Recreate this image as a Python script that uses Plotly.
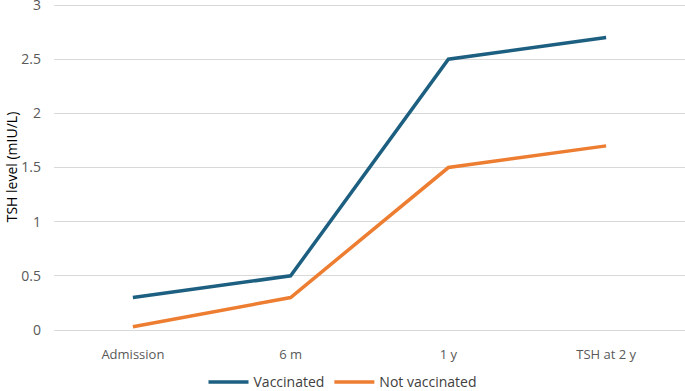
import plotly.graph_objects as go

categories = ["Admission", "6 m", "1 y", "TSH at 2 y"]
vaccinated = [0.3, 0.5, 2.5, 2.7]
not_vaccinated = [0.03, 0.3, 1.5, 1.7]
y_ticks = [0, 0.5, 1, 1.5, 2, 2.5, 3]
y_tick_labels = ["0", "0.5", "1", "1.5", "2", "2.5", "3"]

fig = go.Figure()
fig.add_trace(go.Scatter(x=categories, y=vaccinated, mode="lines", name="Vaccinated",
                         line=dict(color="#1d5f80", width=3.5)))
fig.add_trace(go.Scatter(x=categories, y=not_vaccinated, mode="lines", name="Not vaccinated",
                         line=dict(color="#ed7d31", width=3.5)))

fig.update_layout(
    width=685, height=391,
    margin=dict(l=54, r=0, t=4, b=61, autoexpand=False),
    paper_bgcolor="white", plot_bgcolor="white",
    font=dict(family="Open Sans, Liberation Sans, sans-serif", size=13, color="#595959"),
    legend=dict(orientation="h", x=0.5, xanchor="center", xref="container",
                y=0.022, yanchor="middle", yref="container",
                font=dict(size=14, color="#404040"), itemwidth=40, tracegroupgap=0),
    xaxis=dict(type="category", range=[-0.5, 3.5], showgrid=False, showline=True,
               linecolor="#d9d9d9", linewidth=1, ticks="", ticklabelstandoff=12,
               tickfont=dict(size=13, color="#595959")),
    yaxis=dict(range=[0, 3.01], tickvals=y_ticks, ticktext=y_tick_labels, showgrid=True,
               gridcolor="#d9d9d9", gridwidth=1, zeroline=False, ticks="", ticklabelstandoff=12,
               ticklabeloverflow="allow", tickfont=dict(size=14, color="#595959"),
               title=dict(text="TSH level (mIU/L)", font=dict(size=14, color="black"), standoff=0)),
)

fig.write_html("out.html", config={"displayModeBar": False},
               post_script="document.body.style.margin='0';")
